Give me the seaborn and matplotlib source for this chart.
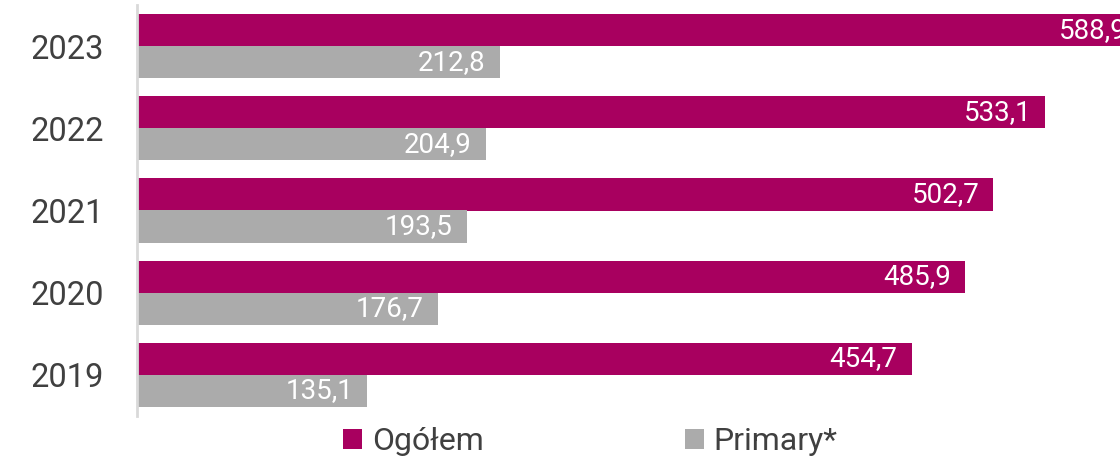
import pandas as pd
import seaborn as sns
import matplotlib.pyplot as plt
from matplotlib.patches import Patch

years = ["2023", "2022", "2021", "2020", "2019"]
ogolem = [588.9, 533.1, 502.7, 485.9, 454.7]
primary = [212.8, 204.9, 193.5, 176.7, 135.1]
series = ["Ogółem", "Primary*"]
colors = ["#A8005F", "#ABABAB"]

df = pd.DataFrame({
    "year": years * 2,
    "value": ogolem + primary,
    "series": [series[0]] * len(years) + [series[1]] * len(years),
})

sns.set_style("white")
plt.rcParams["font.family"] = ["Roboto", "DejaVu Sans"]

fig = plt.figure(figsize=(11.2, 4.59), dpi=100)
ax = fig.add_axes([137 / 1120, 1 - 416 / 459, 1 - 137 / 1120, 411 / 459])

sns.barplot(
    df, x="value", y="year", hue="series", order=years, hue_order=series,
    palette=colors, saturation=1, orient="h", width=0.78, gap=0, linewidth=0,
    legend=False, ax=ax,
)

xmax = 577
for cont in ax.containers:
    for bar, v in zip(cont, cont.datavalues):
        ax.text(
            bar.get_x() + bar.get_width() - xmax * 14 / 983, bar.get_y() + bar.get_height() / 2,
            f"{v:.1f}".replace(".", ","), ha="right", va="center",
            color="white", fontsize=20, clip_on=False,
        )

ax.set_xlim(0, xmax)
ax.set_ylim(4.5, -0.5)
ax.set_xlabel("")
ax.set_ylabel("")
ax.set_xticks([])
ax.tick_params(axis="y", length=0, labelsize=23.5, labelcolor="#404040", pad=24)
for s in ["top", "right", "bottom"]:
    ax.spines[s].set_visible(False)
ax.spines["left"].set_color("#D9D9D9")
ax.spines["left"].set_linewidth(2)

handles = [Patch(facecolor=c, edgecolor="none") for c in colors]
fig.legend(
    handles, series, loc="center", bbox_to_anchor=(0.527, 0.038), ncol=2,
    frameon=False, fontsize=23, labelcolor="#404040", columnspacing=6.3,
    handlelength=0.6, handleheight=0.6, handletextpad=0.3,
)

plt.savefig("out.png", dpi=100)
